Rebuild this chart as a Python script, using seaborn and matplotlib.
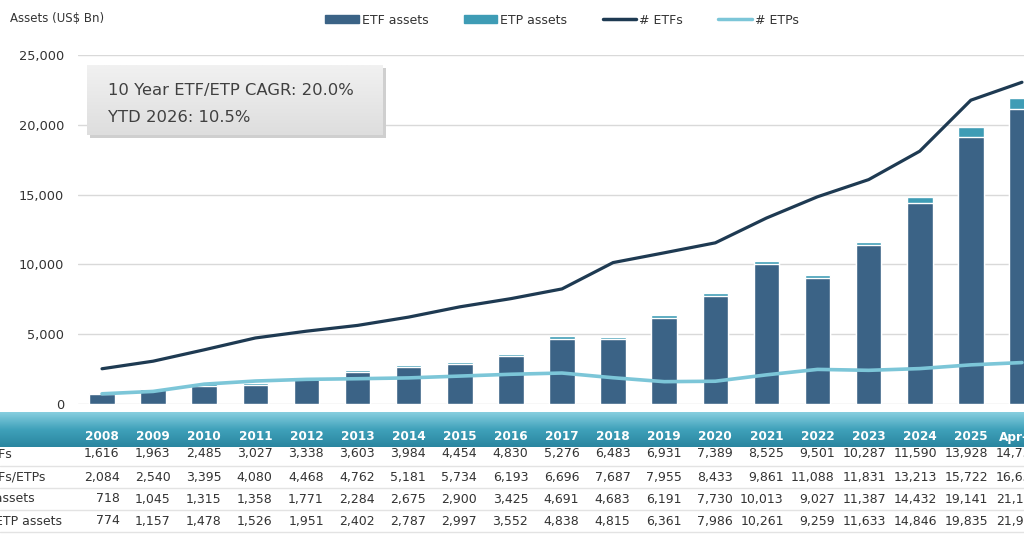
import numpy as np
import matplotlib
matplotlib.use("Agg")
import matplotlib.pyplot as plt
import matplotlib.transforms as mtransforms
from matplotlib.colors import LinearSegmentedColormap
from matplotlib.ticker import FuncFormatter
from matplotlib.patches import Patch
from matplotlib.lines import Line2D
import seaborn as sns

# values (Apr-26 column is cut off in the picture, estimated)
years = ["2008", "2009", "2010", "2011", "2012", "2013", "2014", "2015", "2016",
         "2017", "2018", "2019", "2020", "2021", "2022", "2023", "2024", "2025", "Apr-26"]
n_etfs = [1616, 1963, 2485, 3027, 3338, 3603, 3984, 4454, 4830, 5276, 6483,
          6931, 7389, 8525, 9501, 10287, 11590, 13928, 14750]
n_etfs_etps = [2084, 2540, 3395, 4080, 4468, 4762, 5181, 5734, 6193, 6696, 7687,
               7955, 8433, 9861, 11088, 11831, 13213, 15722, 16650]
etf_assets = [718, 1045, 1315, 1358, 1771, 2284, 2675, 2900, 3425, 4691, 4683,
              6191, 7730, 10013, 9027, 11387, 14432, 19141, 21150]
etf_etp_assets = [774, 1157, 1478, 1526, 1951, 2402, 2787, 2997, 3552, 4838, 4815,
                  6361, 7986, 10261, 9259, 11633, 14846, 19835, 21900]
row_labels = ["# ETFs", "# ETFs/ETPs", "ETF assets", "ETF/ETP assets"]

# ETP count line = all products minus ETFs
n_etps = [b - a for a, b in zip(n_etfs, n_etfs_etps)]

c_etf = "#3B6386"
c_etp = "#3E9CB5"
c_line_etf = "#1E3A52"
c_line_etp = "#7CC6D8"
c_text = "#333333"

sns.set_theme(style="white")
plt.rcParams["font.family"] = ["DejaVu Sans"]

W, H = 1024, 538
fig = plt.figure(figsize=(W / 100, H / 100), dpi=100)
ax = fig.add_axes([78 / W, (H - 404) / H, (W - 78) / W, (404 - 55) / H])

# stacked look: total bar (teal) behind ETF bar (dark blue)
sns.barplot(x=years, y=etf_etp_assets, color=c_etp, width=0.5, ax=ax,
            saturation=1, zorder=2)
sns.barplot(x=years, y=etf_assets, color=c_etf, width=0.5, ax=ax,
            saturation=1, zorder=3)

ax2 = ax.twinx()
pos = np.arange(len(years))
sns.lineplot(x=pos, y=n_etfs, color=c_line_etf, lw=2.3, ax=ax2, legend=False)
sns.lineplot(x=pos, y=n_etps, color=c_line_etp, lw=2.6, ax=ax2, legend=False)
ax2.set_ylim(0, 16000)
ax2.set_yticks([])
ax2.set_ylabel("")

ax.set_xlim(-0.47, 18.04)
ax2.set_xlim(-0.47, 18.04)
ax.set_ylim(0, 25000)
ax.set_yticks(range(0, 25001, 5000))
ax.yaxis.set_major_formatter(FuncFormatter(lambda v, p: f"{int(v):,}"))
ax.tick_params(axis="y", length=0, pad=10, labelsize=9.3, colors=c_text)
ax.set_xticks([])
ax.set_xlabel("")
ax.set_ylabel("")
ax.yaxis.grid(True, color="#D9D9D9", lw=1)
ax.set_axisbelow(True)
for a in (ax, ax2):
    for s in a.spines.values():
        s.set_visible(False)
    if a.get_legend():
        a.get_legend().remove()

fig.text(10 / W, 1 - 18 / H, "Assets (US$ Bn)", fontsize=8.5, color=c_text,
         va="center", ha="left")

# legend along the top
handles = [Patch(color=c_etf), Patch(color=c_etp),
           Line2D([], [], color=c_line_etf, lw=2.5),
           Line2D([], [], color=c_line_etp, lw=2.5)]
fig.legend(handles, ["ETF assets", "ETP assets", "# ETFs", "# ETPs"],
           loc="center", bbox_to_anchor=(562 / W, 1 - 20 / H), ncol=4,
           frameon=False, fontsize=9, handlelength=2.7, handleheight=0.6,
           handletextpad=0.25, columnspacing=2.8, labelcolor=c_text)

# CAGR box with a soft shadow
shadow = fig.add_axes([90 / W, (H - 138) / H, 296 / W, 70 / H])
shadow.set_facecolor("#CFCFCF")
shadow.set_xticks([]); shadow.set_yticks([])
for s in shadow.spines.values():
    s.set_visible(False)
box = fig.add_axes([87 / W, (H - 135) / H, 296 / W, 70 / H])
gray = LinearSegmentedColormap.from_list("g", ["#DEDEDE", "#F1F1F1"])
box.imshow(np.linspace(0, 1, 50).reshape(-1, 1), cmap=gray, aspect="auto",
           extent=[0, 1, 0, 1], origin="lower")
box.axis("off")
fig.text(108 / W, 1 - 91 / H, "10 Year ETF/ETP CAGR: 20.0%", fontsize=11.8,
         color="#404040", va="center")
fig.text(108 / W, 1 - 117 / H, "YTD 2026: 10.5%", fontsize=11.8,
         color="#404040", va="center")

# table header band
band = fig.add_axes([0, (H - 447) / H, 1, 35 / H])
teal = LinearSegmentedColormap.from_list("t", ["#2A86A0", "#3FA1BA", "#86CEDF"])
band.imshow(np.linspace(0, 1, 50).reshape(-1, 1), cmap=teal, aspect="auto",
            extent=[0, 1, 0, 1], origin="lower")
band.axis("off")

blend = mtransforms.blended_transform_factory(ax.transData, fig.transFigure)
for i, y in enumerate(years):
    fig.text(i, 1 - 437 / H, y, transform=blend, ha="center", va="center",
             color="white", fontsize=8.7, fontweight="bold")

rows = [n_etfs, n_etfs_etps, etf_assets, etf_etp_assets]
row_y = [454, 477, 499, 521]
for lab, vals, yp in zip(row_labels, rows, row_y):
    fig.text(-32 / W, 1 - yp / H, lab, ha="left", va="center",
             color=c_text, fontsize=9)
    for i, v in enumerate(vals):
        fig.text(i + 0.34, 1 - yp / H, f"{v:,}", transform=blend, ha="right",
                 va="center", color=c_text, fontsize=9)
for yl in [466, 488, 510, 532]:
    fig.add_artist(Line2D([0, 1], [1 - yl / H, 1 - yl / H], color="#E3E3E3",
                          lw=1, transform=fig.transFigure))

fig.savefig("out.png", dpi=100)
